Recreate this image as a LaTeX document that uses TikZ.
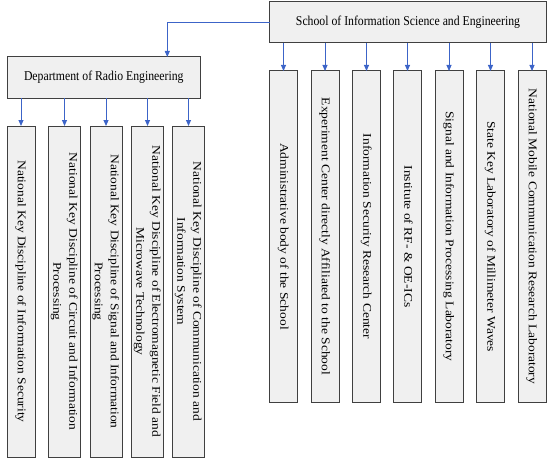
\documentclass[tikz,border=0pt]{standalone}
\usepackage{fontspec}
\setmainfont{Liberation Serif}
\usetikzlibrary{arrows.meta}
\definecolor{linkblue}{HTML}{3C64C8}
\definecolor{boxfill}{HTML}{F0F0F0}
\newcommand\vtxt[1]{\rotatebox{-90}{\scalebox{1}[0.87]{\fontsize{13.5}{18.4}\selectfont\begin{tabular}{@{}c@{}}#1\end{tabular}}}}
\newcommand\htxt[1]{\scalebox{0.87}[1]{\fontsize{13.5}{16}\selectfont #1}}
\begin{document}
\begin{tikzpicture}[x=1pt,y=-1pt,
  box/.style={draw=black!75, line width=1pt, fill=boxfill, inner sep=0pt, outer sep=0pt, anchor=north west},
  hbox/.style={box, minimum height=41pt},
  col/.style={box, minimum width=28pt, minimum height=331pt},
  conn/.style={draw=linkblue, line width=0.9pt, -{Triangle[width=5pt,length=6pt]}}]
\useasboundingbox (0,0) rectangle (554,460);

% top boxes
\node[hbox, minimum width=277pt] (school) at (269.5,2) {\htxt{School of Information Science and Engineering}};
\node[hbox, minimum width=193.5pt] (dept) at (7,57) {\htxt{Department of Radio Engineering}};

% department columns
\node[col] (l1) at (7,126)   {\vtxt{National Key Discipline of Information Security}};
\node[col] (l2) at (48.5,126) {\vtxt{National Key Discipline of Circuit and Information\\Processing}};
\node[col] (l3) at (90,126)  {\vtxt{National Key Discipline of Signal and Information\\Processing}};
\node[col] (l4) at (131.5,126) {\vtxt{National Key Discipline of Electromagnetic Field and\\Microwave Technology}};
\node[col] (l5) at (172.5,126) {\vtxt{National Key Discipline of Communication and\\Information System\hspace*{40pt}}};

% school columns
\node[col] (r1) at (269.5,71) {\vtxt{Administrative body of the School}};
\node[col] (r2) at (311,71)   {\vtxt{Experiment Center directly Affiliated to the School}};
\node[col] (r3) at (352.5,71) {\vtxt{Information Security Research Center}};
\node[col] (r4) at (393.5,71) {\vtxt{Institute of RF- \& OE-ICs}};
\node[col] (r5) at (435,71)   {\vtxt{Signal and Information Processing Laboratory}};
\node[col] (r6) at (476.5,71) {\vtxt{State Key Laboratory of Millimeter Waves}};
\node[col] (r7) at (518,71)   {\vtxt{National Mobile Communication Research Laboratory}};

% connectors
\coordinate (bend) at (167.3,22.5);
\draw[conn] (school.west) -- (bend) -- (bend |- dept.north);
\foreach \n in {l1,l2,l3,l4,l5}
  \draw[conn] (\n.north |- dept.south) -- (\n.north);
\foreach \n in {r1,r2,r3,r4,r5,r6,r7}
  \draw[conn] (\n.north |- school.south) -- (\n.north);
\end{tikzpicture}
\end{document}
